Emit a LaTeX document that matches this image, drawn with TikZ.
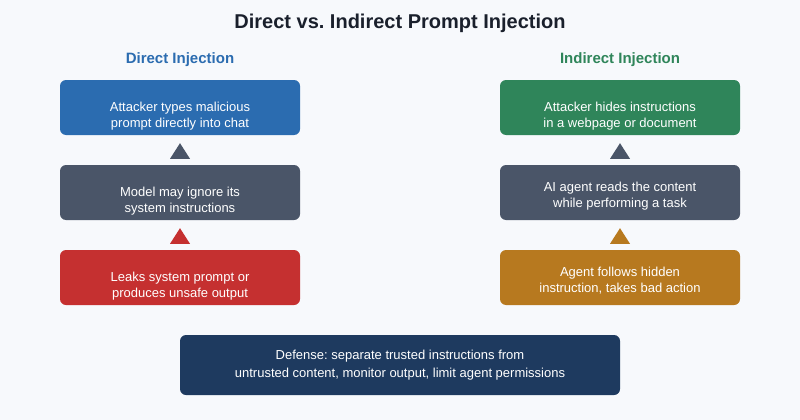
\documentclass[tikz,border=0pt]{standalone}
\usepackage{fontspec}
\setmainfont{Liberation Sans}
\usetikzlibrary{calc}
\frenchspacing
\definecolor{bg}{HTML}{F7F9FC}
\definecolor{titlec}{HTML}{1A202C}
\definecolor{cblue}{HTML}{2B6CB0}
\definecolor{cslate}{HTML}{4A5568}
\definecolor{cred}{HTML}{C53030}
\definecolor{cgreen}{HTML}{2F855A}
\definecolor{cochre}{HTML}{B7791F}
\definecolor{cnavy}{HTML}{1E3A5F}
\tikzset{
  box/.style={rounded corners=6pt, minimum width=240pt, minimum height=55pt, inner sep=0pt},
  txt/.style={anchor=base, inner sep=0pt, text=white, align=center, font=\fontsize{13}{16}\selectfont},
  head/.style={font=\bfseries\fontsize{15}{17}\selectfont},
}
\begin{document}
\begin{tikzpicture}[x=1pt,y=-1pt]
\fill[bg] (0,0) rectangle (800,420);
\useasboundingbox (0,0) rectangle (800,420);
\node[font=\bfseries\fontsize{20}{22}\selectfont, text=titlec] (title) at (400,23) {Direct vs. Indirect Prompt Injection};
\node[head, text=cblue] (hl) at (180,60) {Direct Injection};
\node[head, text=cgreen] (hr) at (620,60) {Indirect Injection};
% left column
\node[box, fill=cblue] (l1) at (180,107.5) {};
\node[box, fill=cslate] (l2) at (180,192.5) {};
\node[box, fill=cred] (l3) at (180,277.5) {};
\node[txt] (l1t) at ($(l1.north)+(0,48)$) {Attacker types malicious\\prompt directly into chat};
\node[txt] (l2t) at ($(l2.north)+(0,48)$) {Model may ignore its\\system instructions};
\node[txt] (l3t) at ($(l3.north)+(0,48)$) {Leaks system prompt or\\produces unsafe output};
% right column
\node[box, fill=cgreen] (r1) at (620,107.5) {};
\node[box, fill=cslate] (r2) at (620,192.5) {};
\node[box, fill=cochre] (r3) at (620,277.5) {};
\node[txt] (r1t) at ($(r1.north)+(0,48)$) {Attacker hides instructions\\in a webpage or document};
\node[txt] (r2t) at ($(r2.north)+(0,43)$) {AI agent reads the content\\while performing a task};
\node[txt] (r3t) at ($(r3.north)+(0,43)$) {Agent follows hidden\\instruction, takes bad action};
% triangles
\fill[cslate] ($(l2.north)+(-10,-6)$) -- ($(l2.north)+(10,-6)$) -- ($(l1.south)+(0,8)$) -- cycle;
\fill[cred] ($(l3.north)+(-10,-6)$) -- ($(l3.north)+(10,-6)$) -- ($(l2.south)+(0,8)$) -- cycle;
\fill[cslate] ($(r2.north)+(-10,-6)$) -- ($(r2.north)+(10,-6)$) -- ($(r1.south)+(0,8)$) -- cycle;
\fill[cochre] ($(r3.north)+(-10,-6)$) -- ($(r3.north)+(10,-6)$) -- ($(r2.south)+(0,8)$) -- cycle;
% defense
\node[box, fill=cnavy, minimum width=440pt, minimum height=60pt] (def) at (400,365) {};
\node[txt, font=\fontsize{13}{18}\selectfont] (deft) at ($(def.north)+(0,43)$) {Defense: separate trusted instructions from\\untrusted content, monitor output, limit agent permissions};
\end{tikzpicture}
\end{document}
